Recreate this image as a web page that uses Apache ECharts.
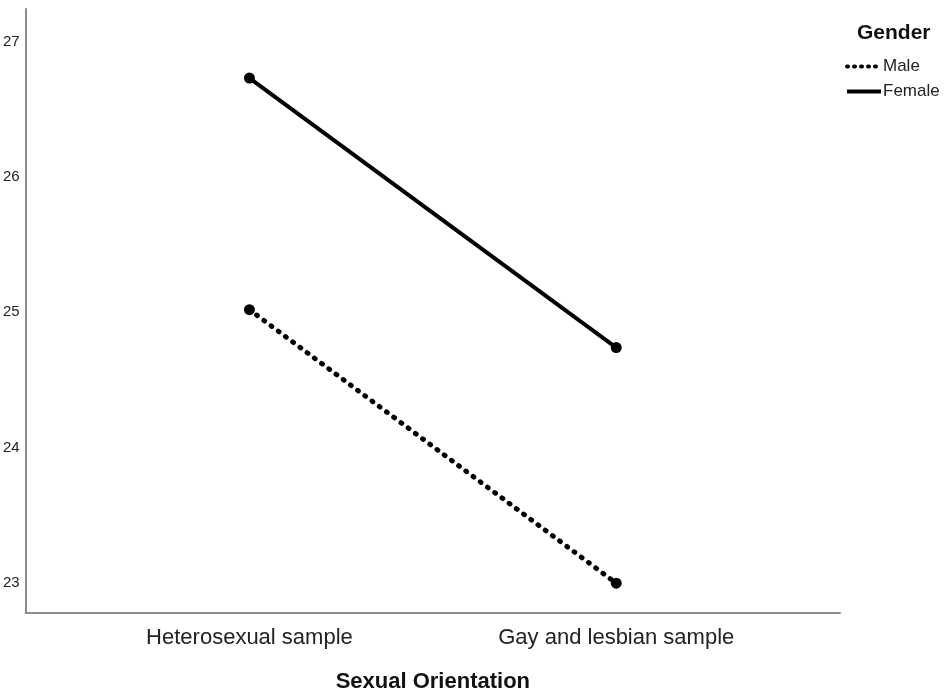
<!DOCTYPE html>
<html>
<head>
<meta charset="utf-8">
<script src="https://cdn.jsdelivr.net/npm/echarts@6/dist/echarts.min.js"></script>
<style>
html,body{margin:0;padding:0;background:#fff;}
#chart{width:949px;height:699px;}
</style>
</head>
<body>
<div id="chart"></div>
<script>
const categories = ['Heterosexual sample', 'Gay and lesbian sample'];
const maleValues = [25.02, 23.0];
const femaleValues = [26.73, 24.74];
const seriesNames = ['Male', 'Female'];

const toPairs = vals => vals.map((v, i) => [i, v]);

const chart = echarts.init(document.getElementById('chart'));
chart.setOption({
  backgroundColor: '#fff',
  animation: false,
  title: {
    text: 'Gender',
    left: 852,
    top: 18,
    textStyle: { fontFamily: 'Liberation Sans, Arial', fontSize: 21, fontWeight: 'bold', color: '#111' }
  },
  legend: {
    orient: 'vertical',
    left: 840,
    top: 53,
    itemWidth: 34,
    itemHeight: 16,
    itemGap: 8,
    data: [
      { name: seriesNames[0], lineStyle: { width: 4, type: [1, 6], cap: 'round' } },
      { name: seriesNames[1], lineStyle: { width: 4 } }
    ],
    itemStyle: { opacity: 0 },
    lineStyle: { width: 4 },
    textStyle: { fontFamily: 'Liberation Sans, Arial', fontSize: 17, color: '#222', padding: [0, 0, 0, -3] }
  },
  grid: { left: 25, right: 109, top: 9, bottom: 86, containLabel: false },
  xAxis: {
    type: 'value',
    min: -0.61,
    max: 1.61,
    splitNumber: 2,
    name: 'Sexual Orientation',
    nameLocation: 'middle',
    nameGap: 58,
    nameTextStyle: { fontFamily: 'Liberation Sans, Arial', fontSize: 22, fontWeight: 'bold', color: '#111' },
    axisLine: { show: true, onZero: false, lineStyle: { color: '#8c8c8c', width: 2 } },
    axisTick: { show: false },
    splitLine: { show: false },
    axisLabel: {
      margin: 14,
      fontFamily: 'Liberation Sans, Arial',
      fontSize: 22,
      color: '#222',
      showMinLabel: false,
      showMaxLabel: false,
      formatter: v => (Math.abs(v - Math.round(v)) < 1e-6 && categories[Math.round(v)] !== undefined) ? categories[Math.round(v)] : ''
    }
  },
  yAxis: {
    type: 'value',
    min: 22.78,
    max: 27.24,
    splitNumber: 4,
    axisLine: { show: true, onZero: false, lineStyle: { color: '#8c8c8c', width: 2 } },
    axisTick: { show: false },
    splitLine: { show: false },
    axisLabel: {
      margin: 6,
      fontFamily: 'Liberation Sans, Arial',
      fontSize: 15,
      color: '#222',
      showMinLabel: false,
      showMaxLabel: false,
      formatter: v => (Math.abs(v - Math.round(v)) < 1e-6) ? String(Math.round(v)) : ''
    }
  },
  series: [
    {
      name: seriesNames[0],
      type: 'line',
      data: toPairs(maleValues),
      symbol: 'circle',
      symbolSize: 11,
      itemStyle: { color: '#000' },
      lineStyle: { color: '#000', width: 5, type: [1, 8], cap: 'round' }
    },
    {
      name: seriesNames[1],
      type: 'line',
      data: toPairs(femaleValues),
      symbol: 'circle',
      symbolSize: 11,
      itemStyle: { color: '#000' },
      lineStyle: { color: '#000', width: 4 }
    }
  ]
});
</script>
</body>
</html>
